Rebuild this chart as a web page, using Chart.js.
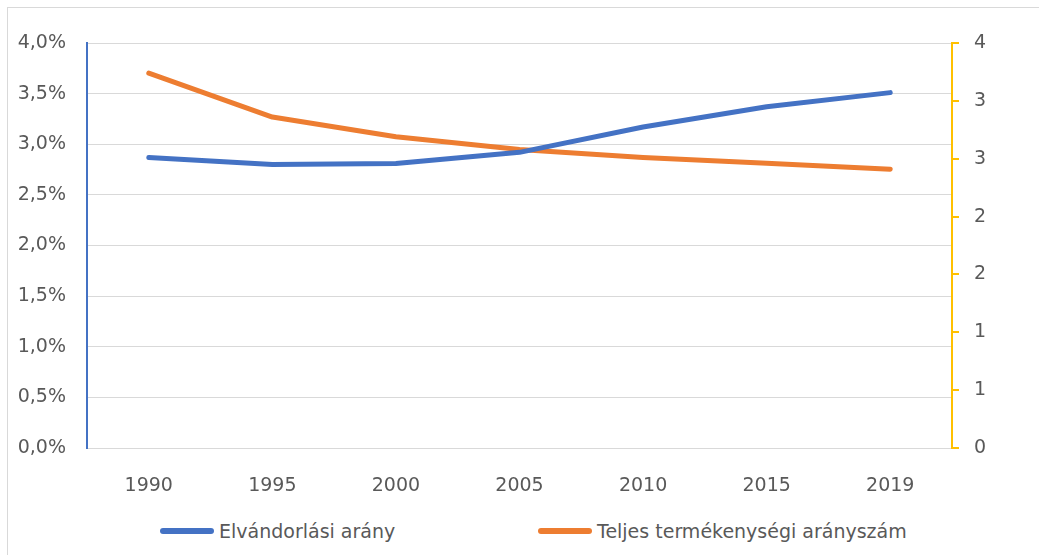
<!DOCTYPE html>
<html>
<head>
<meta charset="utf-8">
<script src="https://cdn.jsdelivr.net/npm/chart.js@4.4.1/dist/chart.umd.min.js"></script>
<style>
  html, body { margin: 0; padding: 0; background: #fff; }
  body { width: 1039px; height: 555px; overflow: hidden; position: relative; }
  #frame {
    position: absolute; left: 7px; top: 7px; width: 1040px; height: 560px;
    border-left: 1px solid #d9d9d9; border-top: 1px solid #d9d9d9;
  }
  #wrap { position: absolute; left: 0; top: 0; width: 1031px; height: 490px; }
  #legend {
    position: absolute; top: 512px; left: 0; width: 1031px;
    font-family: "DejaVu Sans", sans-serif; font-size: 19px; color: #595959;
  }
  .item { position: absolute; display: flex; align-items: center; white-space: nowrap; }
  .swatch { display: inline-block; width: 54px; height: 6px; border-radius: 3px; margin-right: 5px; }
</style>
</head>
<body>
<div id="frame">
  <div id="wrap"><canvas id="chart"></canvas></div>
  <div id="legend"></div>
</div>
<script>
  // data
  const years = ["1990", "1995", "2000", "2005", "2010", "2015", "2019"];
  const emigrationRate = [0.0287, 0.0280, 0.0281, 0.0292, 0.0317, 0.0337, 0.0351];
  const fertilityRate = [3.24, 2.86, 2.69, 2.58, 2.51, 2.46, 2.41];
  const seriesNames = ["Elvándorlási arány", "Teljes termékenységi arányszám"];
  const seriesColors = ["#4472C4", "#ED7D31"];

  const FONT = { family: "'DejaVu Sans', sans-serif", size: 19 };
  const TEXT = "#595959";

  const pct = v => (v * 100).toFixed(1).replace(".", ",") + "%";

  const chart = new Chart(document.getElementById("chart"), {
    type: "line",
    data: {
      labels: years,
      datasets: [
        {
          label: seriesNames[0],
          data: emigrationRate,
          yAxisID: "y",
          borderColor: seriesColors[0],
          backgroundColor: seriesColors[0],
          borderWidth: 5,
          borderCapStyle: "round",
          borderJoinStyle: "round",
          pointRadius: 0,
          tension: 0
        },
        {
          label: seriesNames[1],
          data: fertilityRate,
          yAxisID: "y1",
          borderColor: seriesColors[1],
          backgroundColor: seriesColors[1],
          borderWidth: 5,
          borderCapStyle: "round",
          borderJoinStyle: "round",
          pointRadius: 0,
          tension: 0
        }
      ]
    },
    options: {
      responsive: true,
      maintainAspectRatio: false,
      animation: false,
      layout: { padding: { top: 35, left: 0, right: 0, bottom: 0 } },
      plugins: {
        legend: { display: false },
        tooltip: { enabled: false }
      },
      scales: {
        x: {
          offset: true,
          grid: { display: false },
          border: { color: "#d9d9d9", width: 1 },
          ticks: { font: FONT, color: TEXT, padding: 19 },
          afterFit(s){ s.height = 50; }
        },
        y: {
          position: "left",
          min: 0,
          max: 0.04,
          grid: { color: "#d9d9d9", lineWidth: 1, drawTicks: false },
          border: { color: "#4472C4", width: 2 },
          ticks: { stepSize: 0.005, font: FONT, color: TEXT, padding: 21, callback: v => pct(v) },
          afterFit(s){ s.width = 79; }
        },
        y1: {
          position: "right",
          min: 0,
          max: 3.5,
          grid: { drawOnChartArea: false, color: "#FFC000", lineWidth: 2, tickLength: 7 },
          border: { color: "#FFC000", width: 2 },
          ticks: { stepSize: 0.5, font: FONT, color: TEXT, padding: 15, callback: v => String(Math.round(v)) },
          afterFit(s){ s.width = 87; }
        }
      }
    }
  });

  // legend below the plot, built from the same arrays
  const legend = document.getElementById("legend");
  const legendX = [152, 530];
  seriesNames.forEach((name, i) => {
    const item = document.createElement("div");
    item.className = "item";
    item.style.left = legendX[i] + "px";
    const sw = document.createElement("span");
    sw.className = "swatch";
    sw.style.background = seriesColors[i];
    const tx = document.createElement("span");
    tx.textContent = name;
    item.appendChild(sw);
    item.appendChild(tx);
    legend.appendChild(item);
  });
</script>
</body>
</html>
